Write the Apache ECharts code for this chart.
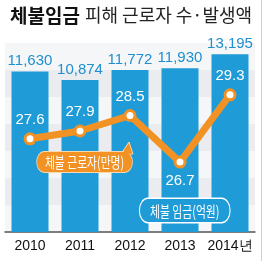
<!DOCTYPE html>
<html><head><meta charset="utf-8">
<script src="https://cdn.jsdelivr.net/npm/echarts@6/dist/echarts.min.js"></script>
<style>html,body{margin:0;padding:0;background:#fff}#c{width:265px;height:261px}</style>
</head><body><div id="c"></div>
<script>
const years = ['2010', '2011', '2012', '2013', '2014년'];
const wageArrears = [11630, 10874, 11772, 11930, 13195];   // 체불 임금(억원)
const workers = [27.6, 27.9, 28.5, 26.7, 29.3];            // 체불 근로자(만명)
const workerLabelPos = ['top', 'top', 'top', 'bottom', 'top'];

const NUM = '"Liberation Sans Narrow","Liberation Sans",Arial,sans-serif';
const KR = '"Noto Sans CJK KR","Noto Sans",sans-serif';
const BLUE = '#1f9bd7';
const ORANGE = '#f39224';

const chart = echarts.init(document.getElementById('c'), null, {renderer: 'canvas'});
chart.setOption({
  animation: false,
  backgroundColor: '#fff',
  grid: {left: 5, right: 10, top: 43, bottom: 29, containLabel: false},
  title: {
    left: 5, top: 1,
    text: '{b|체불임금} {r|피해 근로자 수·발생액}',
    textStyle: {
      rich: {
        b: {fontFamily: KR, fontWeight: 'bold', fontSize: 19, color: '#111'},
        r: {fontFamily: KR, fontWeight: 'normal', fontSize: 18, color: '#222'}
      }
    }
  },
  xAxis: {
    type: 'category', data: years,
    axisLine: {onZero: false, lineStyle: {color: '#555', width: 1.5}},
    axisTick: {show: false},
    axisLabel: {interval: 0, color: '#111', fontFamily: NUM, fontSize: 14, margin: 7}
  },
  yAxis: [
    {type: 'value', min: -2800, max: 14200, startValue: -2800, show: false},
    {type: 'value', min: 24, max: 31.3, show: false},
    {type: 'value', min: 0, max: 7, interval: 1, show: true,
      axisLine: {show: false}, axisTick: {show: false}, axisLabel: {show: false},
      splitLine: {show: false},
      splitArea: {show: true, areaStyle: {color: ['#f5f6f8', '#eaecf0']}}}
  ],
  series: [
    {
      type: 'bar', yAxisIndex: 0, data: wageArrears, barWidth: 37,
      itemStyle: {color: BLUE},
      label: {show: true, position: 'top', distance: 3, color: '#1f8fcf',
        fontFamily: NUM, fontSize: 15,
        formatter: p => p.value.toLocaleString('en-US')},
      z: 2
    },
    {
      type: 'line', yAxisIndex: 1,
      data: workers.map((v, i) => ({value: v, label: {position: workerLabelPos[i]}})),
      lineStyle: {color: ORANGE, width: 7},
      symbol: 'circle', symbolSize: 10,
      itemStyle: {color: '#fff', borderColor: ORANGE, borderWidth: 3},
      label: {show: true, color: '#fff', fontFamily: NUM, fontSize: 15, distance: 5,
        formatter: p => p.value.toFixed(1)},
      z: 5
    }
  ],
  graphic: {elements: [
    {type: 'polygon', z: 100, shape: {points: [[121, 154], [129, 142], [133, 154]]},
      style: {fill: ORANGE, stroke: '#fbd9b0', lineWidth: 1}},
    {type: 'text', z: 101, x: 37, y: 152, scaleX: 0.72, style: {text: '체불 근로자(만명)', fill: '#fff',
      font: '15px ' + KR, lineHeight: 17, backgroundColor: ORANGE, borderColor: '#fbd9b0', borderWidth: 1,
      borderRadius: 10, padding: [2, 11, 1, 11], align: 'left', verticalAlign: 'top'}},
    {type: 'polygon', z: 102, shape: {points: [[122.3, 153.8], [128.8, 144], [131.8, 153.8]]},
      style: {fill: ORANGE}},
    {type: 'text', z: 101, x: 140, y: 199, scaleX: 0.72, style: {text: '체불 임금(억원)', fill: '#fff',
      font: '15px ' + KR, lineHeight: 18, backgroundColor: BLUE, borderColor: '#fff', borderWidth: 1.5,
      borderRadius: 11, padding: [3, 14, 2, 14], align: 'left', verticalAlign: 'top'}},
    {type: 'rect', z: 100, shape: {x: 261, y: 0, width: 1, height: 261}, style: {fill: '#d0d0d0'}}
  ]}
});
</script></body></html>
